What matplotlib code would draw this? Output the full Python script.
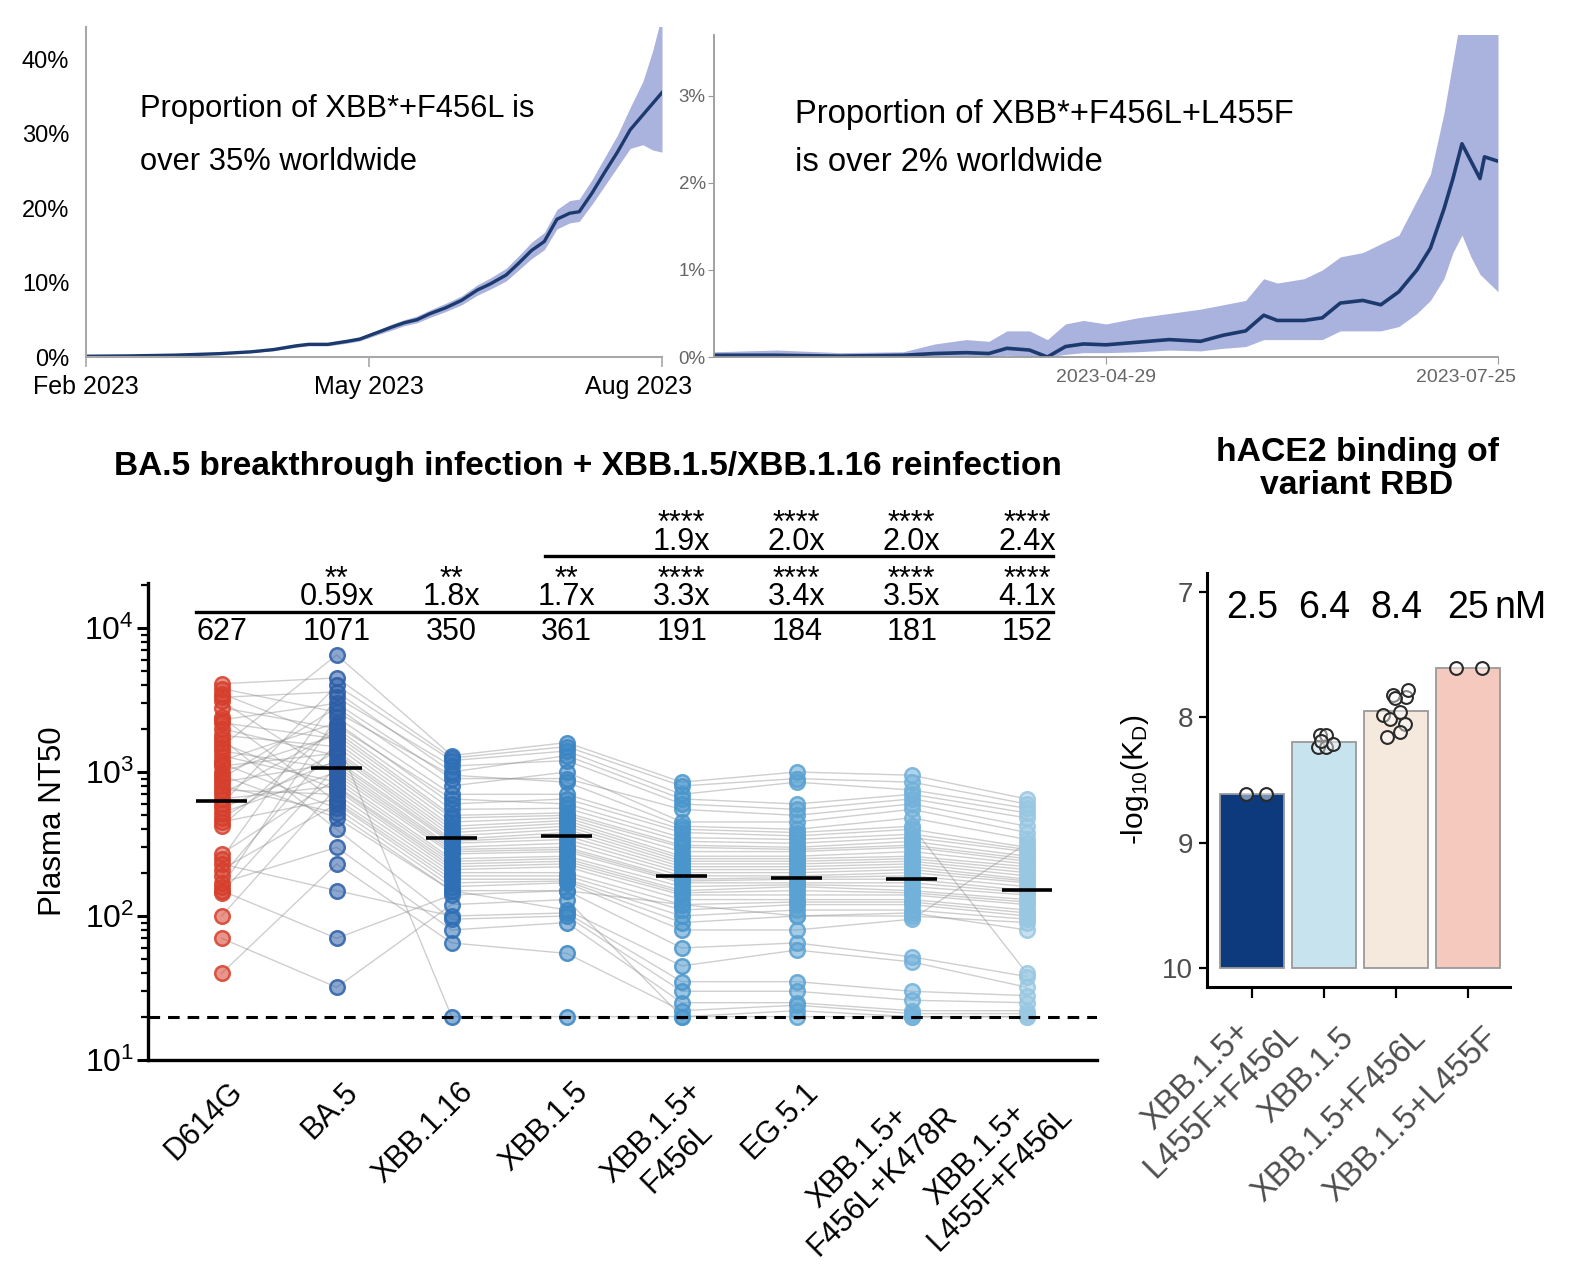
import numpy as np
import matplotlib
matplotlib.use("Agg")
import matplotlib.pyplot as plt
import matplotlib.transforms as mtrans
from matplotlib.ticker import LogLocator, NullFormatter, LogFormatterSciNotation

plt.rcParams['font.family'] = ['Liberation Sans', 'DejaVu Sans']
plt.rcParams['mathtext.fontset'] = 'custom'
plt.rcParams['mathtext.rm'] = 'Liberation Sans'
plt.rcParams['mathtext.it'] = 'Liberation Sans:italic'
plt.rcParams['mathtext.bf'] = 'Liberation Sans:bold'

# ---------------- Panel A: proportion of XBB*+F456L (%) ----------------
prop1_dates = ["2023-02-01", "2023-02-15", "2023-03-01", "2023-03-15", "2023-03-25",
               "2023-04-01", "2023-04-08", "2023-04-12", "2023-04-18", "2023-04-24",
               "2023-04-28", "2023-05-03", "2023-05-08", "2023-05-12", "2023-05-16",
               "2023-05-20", "2023-05-25", "2023-05-30", "2023-06-04", "2023-06-08",
               "2023-06-13", "2023-06-17", "2023-06-21", "2023-06-25", "2023-06-29",
               "2023-07-03", "2023-07-06", "2023-07-10", "2023-07-14", "2023-07-18",
               "2023-07-22", "2023-07-26", "2023-07-29", "2023-08-01"]
prop1_mean = [0.1, 0.15, 0.25, 0.45, 0.7, 1.0, 1.5, 1.7, 1.7, 2.1, 2.4, 3.2, 4.0, 4.6, 5.0,
              5.8, 6.6, 7.6, 9.0, 9.8, 11.0, 12.6, 14.3, 15.5, 18.5, 19.3, 19.5, 22.0, 24.8,
              27.5, 30.5, 32.5, 34.0, 35.5]
prop1_low = [0.05, 0.1, 0.2, 0.35, 0.6, 0.85, 1.3, 1.5, 1.5, 1.85, 2.15, 2.9, 3.6, 4.2, 4.6,
             5.3, 6.1, 7.0, 8.3, 9.1, 10.2, 11.7, 13.2, 14.4, 17.2, 18.0, 18.2, 20.5, 23.0,
             25.5, 28.0, 28.5, 27.8, 27.5]
prop1_high = [0.15, 0.2, 0.3, 0.55, 0.85, 1.15, 1.7, 1.9, 1.95, 2.35, 2.7, 3.5, 4.4, 5.0, 5.5,
              6.3, 7.2, 8.2, 9.7, 10.6, 11.9, 13.6, 15.4, 16.7, 19.8, 21.0, 21.2, 23.8, 26.8,
              29.8, 33.5, 37.0, 41.0, 46.0]
prop1_ticks = ["2023-02-01", "2023-05-01", "2023-08-01"]
prop1_ticklabels = ["Feb 2023", "May 2023", "Aug 2023"]
prop1_yticks = [0, 10, 20, 30, 40]

# ---------------- Panel B: proportion of XBB*+F456L+L455F (%) ----------------
prop2_dates = ["2023-02-01", "2023-02-15", "2023-03-01", "2023-03-15", "2023-03-22",
               "2023-03-29", "2023-04-03", "2023-04-07", "2023-04-12", "2023-04-16",
               "2023-04-20", "2023-04-24", "2023-04-29", "2023-05-06", "2023-05-13",
               "2023-05-20", "2023-05-25", "2023-05-30", "2023-06-03", "2023-06-06",
               "2023-06-12", "2023-06-16", "2023-06-20", "2023-06-25", "2023-06-29",
               "2023-07-03", "2023-07-07", "2023-07-10", "2023-07-13", "2023-07-15",
               "2023-07-17", "2023-07-19", "2023-07-21", "2023-07-22", "2023-07-25"]
prop2_mean = [0.02, 0.02, 0.01, 0.02, 0.04, 0.05, 0.04, 0.1, 0.08, 0.0, 0.12, 0.15, 0.14,
              0.17, 0.2, 0.18, 0.25, 0.3, 0.48, 0.42, 0.42, 0.45, 0.62, 0.65, 0.6, 0.75,
              1.0, 1.25, 1.7, 2.05, 2.45, 2.25, 2.05, 2.3, 2.25]
prop2_low = [0.0, 0.0, 0.0, 0.0, 0.0, 0.0, 0.0, 0.02, 0.01, 0.0, 0.03, 0.05, 0.05, 0.06,
             0.08, 0.07, 0.1, 0.12, 0.2, 0.2, 0.2, 0.2, 0.3, 0.3, 0.3, 0.35, 0.5, 0.65, 0.9,
             1.2, 1.4, 1.15, 0.95, 0.9, 0.75]
prop2_high = [0.06, 0.08, 0.05, 0.06, 0.15, 0.2, 0.18, 0.3, 0.3, 0.2, 0.38, 0.42, 0.38, 0.45,
              0.5, 0.55, 0.6, 0.65, 0.9, 0.85, 0.9, 1.0, 1.15, 1.2, 1.3, 1.4, 1.8, 2.1, 2.8,
              3.4, 4.0, 4.0, 4.0, 4.0, 4.0]
prop2_ticks = ["2023-04-29", "2023-07-25"]
prop2_yticks = [0, 1, 2, 3]

# ---------------- Panel C: plasma NT50 ----------------
variants = ["D614G", "BA.5", "XBB.1.16", "XBB.1.5", "XBB.1.5+\nF456L", "EG.5.1",
            "XBB.1.5+\nF456L+K478R", "XBB.1.5+\nL455F+F456L"]
nt50_d614g = [1500, 4100, 600, 3300, 250, 2300, 900, 3800, 160, 1200, 420, 2800, 700, 1000, 3500,
              190, 1800, 480, 1100, 2000, 560, 850, 145, 1400, 520, 3100, 270, 1300, 650, 100,
              1600, 750, 450, 2400, 210, 1150, 800, 950, 230, 1700, 170, 40, 150, 2200, 70]
nt50_ba5 = [6500, 4500, 4000, 3600, 3300, 3000, 2800, 2600, 2400, 2200, 2100, 2000, 1900, 1800, 1700,
            1600, 1500, 1400, 1350, 1300, 1200, 1150, 1100, 1050, 1000, 950, 900, 850, 800, 780,
            750, 700, 650, 620, 600, 560, 520, 480, 150, 400, 300, 230, 70, 1700, 32]
nt50_xbb116 = [1300, 1250, 1200, 1000, 1100, 900, 800, 950, 700, 600, 650, 550, 500, 480, 450,
               420, 400, 380, 360, 340, 330, 320, 300, 290, 280, 270, 250, 240, 230, 220,
               210, 200, 190, 180, 170, 160, 150, 150, 100, 95, 80, 65, 140, 20, 120]
nt50_xbb15 = [1600, 1500, 1400, 1300, 1200, 900, 1000, 850, 700, 650, 600, 560, 520, 500, 480,
              460, 440, 420, 400, 380, 360, 340, 320, 300, 290, 280, 260, 250, 240, 230,
              220, 200, 190, 180, 175, 170, 150, 110, 105, 100, 90, 55, 150, 20, 130]
nt50_f456l = [850, 800, 700, 650, 600, 550, 450, 420, 400, 380, 350, 330, 310, 300, 280,
              260, 250, 240, 230, 220, 210, 200, 190, 180, 175, 170, 160, 150, 145, 140,
              130, 120, 110, 100, 90, 80, 60, 45, 35, 30, 25, 22, 120, 20, 20]
nt50_eg51 = [1000, 900, 850, 600, 550, 500, 450, 400, 380, 360, 340, 320, 300, 290, 280,
             260, 250, 240, 230, 220, 210, 200, 190, 185, 180, 170, 165, 160, 150, 140,
             130, 125, 120, 110, 100, 80, 65, 58, 35, 30, 25, 24, 100, 20, 22]
nt50_k478r = [950, 850, 750, 700, 650, 600, 550, 480, 420, 400, 370, 350, 330, 310, 300,
              280, 260, 250, 240, 230, 220, 210, 200, 190, 180, 170, 160, 150, 145, 140,
              130, 125, 120, 110, 100, 95, 52, 48, 30, 26, 22, 21, 105, 20, 20]
nt50_l455f = [650, 600, 560, 520, 480, 420, 380, 340, 40, 300, 290, 280, 260, 250, 240,
              230, 220, 210, 200, 190, 180, 175, 170, 160, 150, 145, 140, 130, 125, 120,
              110, 105, 100, 95, 90, 320, 38, 32, 28, 25, 22, 21, 80, 20, 20]
gmt_values = [627, 1071, 350, 361, 191, 184, 181, 152]
fold_row1 = ["", "0.59x", "1.8x", "1.7x", "3.3x", "3.4x", "3.5x", "4.1x"]
sig_row1 = ["", "**", "**", "**", "****", "****", "****", "****"]
fold_row2 = ["", "", "", "", "1.9x", "2.0x", "2.0x", "2.4x"]
sig_row2 = ["", "", "", "", "****", "****", "****", "****"]
detection_limit = 20
group_colors = ["#d63f2c", "#2c5ea8", "#2f6fb6", "#3b86c4", "#4a96cc", "#5aa2d2", "#72b1da", "#98c7e2"]

# ---------------- Panel D: hACE2 binding ----------------
rbd_variants = ["XBB.1.5+\nL455F+F456L", "XBB.1.5", "XBB.1.5+F456L", "XBB.1.5+L455F"]
rbd_bar = [8.613, 8.2, 7.953, 7.607]
rbd_kd_labels = ["2.5", "6.4", "8.4", "25"]
rbd_points = [
    [8.61, 8.61],
    [8.14, 8.14, 8.235, 8.24, 8.216, 8.19],
    [8.155, 7.98, 8.01, 7.955, 8.05, 8.115, 7.82, 7.835, 7.78, 7.85],
    [7.607, 7.607],
]
rbd_colors = ["#0d3a7c", "#c7e3ee", "#f5e9dd", "#f5c9bd"]

# ======================================================================
fig = plt.figure(figsize=(15.75, 12.74), dpi=100)
W, H = 1575.0, 1274.0


def rect(l, t, r, b):
    return [l / W, 1 - b / H, (r - l) / W, (b - t) / H]


def px(dx, dy):
    return mtrans.ScaledTranslation(dx / 100.0, dy / 100.0, fig.dpi_scale_trans)


band_col = "#aab2de"
line_col = "#1c3a6e"

# ---- Panel A ----
ax1 = fig.add_axes(rect(86, 27, 662, 357))
d1 = np.array(prop1_dates, dtype="datetime64[D]")
ax1.fill_between(d1, prop1_low, prop1_high, color=band_col, lw=0)
ax1.plot(d1, prop1_mean, color=line_col, lw=2.4)
ax1.set_xlim(np.datetime64(prop1_ticks[0]), np.datetime64(prop1_ticks[-1]))
ax1.set_ylim(0, 44.3)
ax1.set_yticks(prop1_yticks)
ax1.set_yticklabels([f"{v}%" for v in prop1_yticks], fontsize=17)
ax1.set_xticks(np.array(prop1_ticks, dtype="datetime64[D]"))
ax1.set_xticklabels(prop1_ticklabels, fontsize=18)
for s in ["top", "right"]:
    ax1.spines[s].set_visible(False)
for s in ["left", "bottom"]:
    ax1.spines[s].set_color("#a8a8a8")
    ax1.spines[s].set_linewidth(1.5)
ax1.tick_params(axis="y", length=0, pad=12)
ax1.tick_params(axis="x", length=7, color="#a8a8a8", width=1.2, pad=6)
lbls = ax1.get_xticklabels()
lbls[-1].set_transform(lbls[-1].get_transform() + px(-23, 0))
ax1.text(0.094, 0.797, "Proportion of XBB*+F456L is\nover 35% worldwide", transform=ax1.transAxes,
         fontsize=22.2, va="top", ha="left", linespacing=1.98)

# ---- Panel B ----
ax2 = fig.add_axes(rect(714, 35, 1498, 357))
d2 = np.array(prop2_dates, dtype="datetime64[D]")
ax2.fill_between(d2, prop2_low, prop2_high, color=band_col, lw=0)
ax2.plot(d2, prop2_mean, color=line_col, lw=2.6)
ax2.set_xlim(np.datetime64("2023-02-01"), np.datetime64(prop2_ticks[-1]))
ax2.set_ylim(0, 3.7)
ax2.set_yticks(prop2_yticks)
ax2.set_yticklabels([f"{v}%" for v in prop2_yticks], fontsize=13.5, color="#666666")
ax2.set_xticks(np.array(prop2_ticks, dtype="datetime64[D]"))
ax2.set_xticklabels(prop2_ticks, fontsize=14, color="#666666")
for s in ["top", "right"]:
    ax2.spines[s].set_visible(False)
for s in ["left", "bottom"]:
    ax2.spines[s].set_color("#9a9a9a")
    ax2.spines[s].set_linewidth(1.3)
ax2.tick_params(axis="y", length=4, color="#9a9a9a", pad=2)
ax2.tick_params(axis="x", length=5, color="#9a9a9a", pad=4)
lbls = ax2.get_xticklabels()
lbls[-1].set_transform(lbls[-1].get_transform() + px(-32, 0))
ax2.text(0.103, 0.802, "Proportion of XBB*+F456L+L455F\nis over 2% worldwide", transform=ax2.transAxes,
         fontsize=23.6, va="top", ha="left", linespacing=1.72)

# ---- Panel C ----
ax3 = fig.add_axes(rect(148, 583, 1097, 1060))
groups = [nt50_d614g, nt50_ba5, nt50_xbb116, nt50_xbb15, nt50_f456l, nt50_eg51, nt50_k478r, nt50_l455f]
xpos = np.arange(len(groups))
n_ind = len(nt50_d614g)
for i in range(n_ind):
    ax3.plot(xpos, [g[i] for g in groups], color="#8c8c8c", alpha=0.42, lw=1.0, zorder=1)
for k, g in enumerate(groups):
    c = matplotlib.colors.to_rgb(group_colors[k])
    ax3.scatter(np.full(len(g), xpos[k]), g, s=110, facecolor=c + (0.55,), edgecolor=c + (0.85,),
                linewidth=1.8, zorder=2)
    ax3.plot([xpos[k] - 0.22, xpos[k] + 0.22], [gmt_values[k]] * 2, color="black", lw=2.6,
             zorder=4, solid_capstyle="butt")
ax3.axhline(detection_limit, color="black", lw=2.2, dashes=(3.8, 2.6), zorder=5)
ax3.set_yscale("log")
ax3.set_ylim(10, 10 ** 4.3125)
ax3.set_xlim(-0.64, 7.61)
ax3.yaxis.set_major_locator(LogLocator(base=10, numticks=10))
ax3.yaxis.set_minor_locator(LogLocator(base=10, subs=np.arange(2, 10), numticks=10))
ax3.yaxis.set_major_formatter(LogFormatterSciNotation())
ax3.yaxis.set_minor_formatter(NullFormatter())
ax3.tick_params(axis="y", which="major", length=8, width=2.2, labelsize=23, pad=2)
ax3.tick_params(axis="y", which="minor", length=5, width=1.6)
ax3.set_xticks(xpos)
ax3.set_xticklabels(variants, rotation=45, ha="right", va="top", rotation_mode="anchor",
                    fontsize=22, multialignment="center")
ax3.tick_params(axis="x", length=0, pad=12)
for lab in ax3.get_xticklabels():
    lab.set_transform(lab.get_transform() + px(6, 0))
for s in ["top", "right"]:
    ax3.spines[s].set_visible(False)
for s in ["left", "bottom"]:
    ax3.spines[s].set_linewidth(2.4)
ax3.set_ylabel("Plasma NT50", fontsize=22.5, labelpad=12)


def ylog(v):
    return 10 ** v


for k in range(len(groups)):
    ax3.text(xpos[k], ylog(3.917), str(gmt_values[k]), ha="center", va="baseline", fontsize=22,
             clip_on=False)
    if fold_row1[k]:
        ax3.text(xpos[k], ylog(4.160), sig_row1[k] + "\n" + fold_row1[k], ha="center", va="baseline",
                 fontsize=22, linespacing=0.45, multialignment="center", clip_on=False)
    if fold_row2[k]:
        ax3.text(xpos[k], ylog(4.545), sig_row2[k] + "\n" + fold_row2[k], ha="center", va="baseline",
                 fontsize=22, linespacing=0.45, multialignment="center", clip_on=False)
ax3.plot([xpos[0] - 0.22, xpos[-1] + 0.23], [ylog(4.108)] * 2, color="black", lw=2.4, clip_on=False)
ax3.plot([xpos[3] - 0.19, xpos[-1] + 0.23], [ylog(4.500)] * 2, color="black", lw=2.4, clip_on=False)

fig.text(588 / W, 1 - 466 / H, "BA.5 breakthrough infection + XBB.1.5/XBB.1.16 reinfection",
         ha="center", va="center", fontsize=24, fontweight="bold")

# ---- Panel D ----
ax4 = fig.add_axes(rect(1207, 573, 1510, 987))
xb = np.arange(len(rbd_bar))
ax4.bar(xb, np.array(rbd_bar) - 10, bottom=10, width=0.89, color=rbd_colors, edgecolor="#9a9a9a",
        linewidth=1.3, zorder=1)
jitter = [
    [-0.08, 0.19],
    [-0.06, 0.03, -0.08, 0.03, 0.13, -0.04],
    [-0.13, -0.18, -0.08, 0.05, 0.12, 0.06, -0.04, 0.14, 0.16, -0.02],
    [-0.17, 0.19],
]
for k, pts in enumerate(rbd_points):
    ax4.scatter(xb[k] + np.array(jitter[k]), pts, s=85, facecolor=(1, 1, 1, 0.45), edgecolor="#2a2a2a",
                linewidth=1.5, zorder=3)
ax4.set_ylim(10.15, 6.85)
ax4.set_xlim(-0.625, 3.58)
ax4.set_yticks([7, 8, 9, 10])
ax4.tick_params(axis="y", length=6, width=1.6, labelsize=20, labelcolor="#4d4d4d", pad=4)
ax4.set_xticks(xb)
ax4.set_xticklabels(rbd_variants, rotation=45, ha="right", va="top", rotation_mode="anchor",
                    fontsize=23.5, color="#4d4d4d", multialignment="center")
ax4.tick_params(axis="x", length=8, width=1.6, pad=6)
xl = ax4.get_xticklabels()
for k, lab in enumerate(xl):
    if k == 0:
        lab.set_transform(lab.get_transform() + px(6, 14))
    else:
        lab.set_transform(lab.get_transform() + px(14, -16))
for s in ["top", "right"]:
    ax4.spines[s].set_visible(False)
for s in ["left", "bottom"]:
    ax4.spines[s].set_linewidth(2.2)
ax4.set_ylabel(r"-log$_{10}$(K$_{\mathrm{D}}$)", fontsize=21.5, labelpad=8)
for k, lab in enumerate(rbd_kd_labels):
    ax4.text(xb[k], 7.13, lab, ha="center", va="center", fontsize=27)
ax4.text(xb[-1] + 0.36, 7.13, "nM", ha="left", va="center", fontsize=27)
fig.text(1357 / W, 1 - 469 / H, "hACE2 binding of\nvariant RBD", ha="center", va="center",
         fontsize=24.3, fontweight="bold", linespacing=1.1)

fig.savefig("out.png", dpi=100)
